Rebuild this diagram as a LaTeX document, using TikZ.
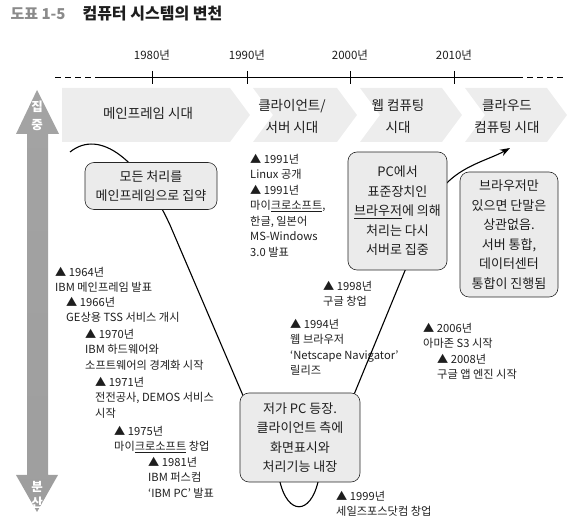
\documentclass[tikz,border=0pt]{standalone}
\usepackage{fontspec}
\setmainfont{Noto Sans CJK KR}
\usetikzlibrary{arrows.meta}

\definecolor{bandgray}{HTML}{EDEDED}
\definecolor{boxgray}{HTML}{EBEBEB}
\definecolor{inkgray}{HTML}{1E1E1E}
\definecolor{titlegray}{HTML}{8A8A8A}

\begin{document}
\begin{tikzpicture}
 [x=1pt, y=-1pt,
  era label/.style={align=center, font=\fontsize{13.5}{22}\selectfont, text=inkgray},
  year label/.style={font=\fontsize{11.5}{13}\selectfont, text=inkgray},
  box node/.style={draw=black!85, line width=0.6pt, rounded corners=9pt, fill=boxgray, align=center, inner sep=2pt, font=\fontsize{13}{19.5}\selectfont, text=inkgray},
  event node/.style={anchor=north west, align=left, inner sep=0pt, font=\fontsize{11.2}{15.5}\selectfont, text=inkgray},
  side label/.style={font=\bfseries\fontsize{12.5}{14}\selectfont, text=white}]

\useasboundingbox (0,0) rectangle (574,526);

% title
\node[anchor=west, font=\bfseries\fontsize{15}{17}\selectfont, text=titlegray] (fig no) at (7,14) {도표 1-5};
\node[anchor=west, font=\bfseries\fontsize{16}{18}\selectfont, text=inkgray] (fig title) at (79,14) {컴퓨터 시스템의 변천};

% time line
\coordinate (tl dash w) at (55,77);
\coordinate (tl w) at (95,77);
\coordinate (tl e) at (523,77);
\coordinate (tl dash e) at (565,77);
\draw[thick, dash pattern=on 6pt off 4pt] (tl dash w) -- (tl w);
\draw[thick] (tl w) -- (tl e);
\draw[thick, dash pattern=on 6pt off 4pt] (tl e) ++(4,0) -- (tl dash e);
\foreach \x/\yr in {152/1980, 247/1990, 350/2000, 454/2010}
 {\draw[thick] (\x,71) -- (\x,84);
  \node[year label] (y\yr) at (\x,55) {\yr 년};}

% era bands
\fill[bandgray] (62,88) -- (230,88) -- (250,115) -- (230,142) -- (62,142) -- cycle;
\foreach \s/\e in {253/357, 360/462, 465/567}
  \fill[bandgray] (\s,88) -- (\e-20,88) -- (\e,115) -- (\e-20,142) -- (\s,142) -- (\s+20,115) -- cycle;

\node[era label] (era main) at (148,113) {메인프레임 시대};
\node[era label] (era cs) at (292,116) {클라이언트/\\서버 시대};
\node[era label] (era web) at (398,116) {웹 컴퓨팅\\시대};
\node[era label] (era cloud) at (507,116) {클라우드\\컴퓨팅 시대};

% side arrow
\shade[top color=black!36, middle color=black!12, bottom color=black!38]
  (37,90) -- (59,134) -- (48,134) -- (48,475) -- (58,475) -- (37,512)
  -- (16,475) -- (27,475) -- (27,134) -- (16,134) -- cycle;
\node[side label] (jip) at (37,107) {집};
\node[side label] (jung) at (37,125) {중};
\node[side label] (bun) at (37,487) {분};
\node[side label] (san) at (37,503) {산};

% events
\node[event node] (ev64) at (55,267) {▲ 1964년\\IBM 메인프레임 발표};
\node[event node] (ev66) at (66,297) {▲ 1966년\\GE상용 TSS 서비스 개시};
\node[event node] (ev70) at (85,329) {▲ 1970년\\IBM 하드웨어와\\소프트웨어의 경계화 시작};
\node[event node] (ev71) at (95,377) {▲ 1971년\\전전공사, DEMOS 서비스\\시작};
\node[event node] (ev75) at (114,426) {▲ 1975년\\마이\underline{크로소프트} 창업};
\node[event node] (ev81) at (148,457) {▲ 1981년\\IBM 퍼스컴\\‘IBM PC’ 발표};
\node[event node] (ev91) at (250,154) {▲ 1991년\\Linux 공개\\▲ 1991년\\마이\underline{크로소프트},\\한글, 일본어\\MS-Windows\\3.0 발표};
\node[event node] (ev98) at (323,281) {▲ 1998년\\구글 창업};
\node[event node] (ev94) at (290,319) {▲ 1994년\\웹 브라우저\\‘Netscape Navigator’\\릴리즈};
\node[event node] (ev06) at (423,323) {▲ 2006년\\아마존 S3 시작};
\node[event node] (ev08) at (437,354) {▲ 2008년\\구글 앱 엔진 시작};
\node[event node] (ev99) at (336,491) {▲ 1999년\\세일즈포스닷컴 창업};

% trend curve
\coordinate (trend start) at (70,152);
\coordinate (trend end) at (510,148);
\draw[line width=1.1pt, -{Stealth[length=10pt,width=7pt]}]
  (trend start) .. controls (100,128) and (140,160) .. (170,225) -- (280,482)
  .. controls (288,515) and (310,515) .. (318,482) -- (432,205)
  .. controls (448,168) and (485,162) .. (trend end);

% boxes
\node[box node, minimum width=132pt, minimum height=47pt] (mainframe box) at (151,186) {모든 처리를\\메인프레임으로 집약};
\node[box node, minimum width=99pt, minimum height=118pt] (web box) at (397.5,211) {PC에서\\표준장치인\\\underline{브라우저}에 의해\\처리는 다시\\서버로 집중};
\node[box node, minimum width=120pt, minimum height=89pt] (pc box) at (300,437.5) {저가 PC 등장.\\클라이언트 측에\\화면표시와\\처리기능 내장};
\node[box node, minimum width=98pt, minimum height=125pt] (cloud box) at (509,234.5) {브라우저만\\있으면 단말은\\상관없음.\\서버 통합,\\데이터센터\\통합이 진행됨};

\end{tikzpicture}
\end{document}
